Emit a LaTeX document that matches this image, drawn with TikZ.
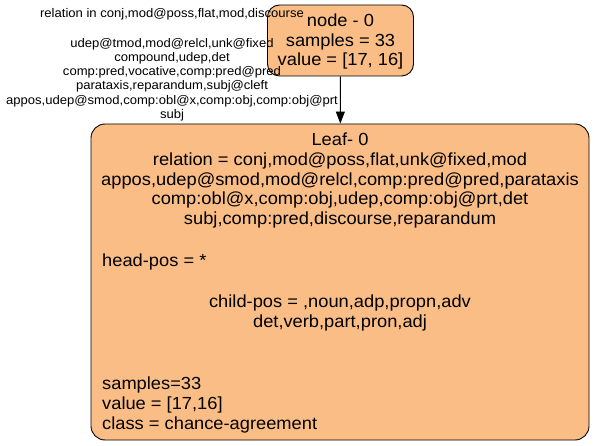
\documentclass[tikz,border=0pt]{standalone}
\usepackage{fontspec}
\setmainfont[FakeStretch=1.045]{Liberation Sans}
\usetikzlibrary{arrows.meta}
\definecolor{nodefill}{RGB}{251,189,134}
\tikzset{
  treebox/.style={draw=black, line width=0.9pt, fill=nodefill, rounded corners=12pt, inner sep=0pt},
  bigtext/.style={font=\fontsize{17.5}{19.7}\selectfont, inner sep=0pt},
  smalltext/.style={font=\fontsize{12.5}{14.3}\selectfont, inner sep=0pt, align=center},
  conn/.style={draw=black, line width=0.9pt, -{Triangle[length=12pt,width=9pt]}}
}
\begin{document}
\begin{tikzpicture}[x=1pt,y=-1pt]
\useasboundingbox (0,0) rectangle (594,446);
% root node
\node[treebox, minimum width=146pt, minimum height=71pt] (root) at (340.5,40.5) {};
\node[bigtext, align=center] (roottext) at (340.5,41.5)
  {node - 0\\samples = 33\\value = [17, 16]};
% leaf box
\node[treebox, rounded corners=14pt, minimum width=498pt, minimum height=316pt] (leaf) at (340,282) {};
\node[bigtext, align=center, anchor=north] (leafA) at (340,133)
  {Leaf- 0\\relation = conj,mod@poss,flat,unk@fixed,mod\\appos,udep@smod,mod@relcl,comp:pred@pred,parataxis\\comp:obl@x,comp:obj,udep,comp:obj@prt,det\\subj,comp:pred,discourse,reparandum};
\node[bigtext, anchor=base west] (leafB) at (102,266) {head-pos = *};
\node[bigtext, align=center, anchor=north] (leafC) at (340,294.5)
  {child-pos = ,noun,adp,propn,adv\\det,verb,part,pron,adj};
\node[bigtext, align=left, anchor=north west] (leafD) at (102,377)
  {samples=33\\value = [17,16]\\class = chance-agreement};
% connector
\draw[conn] (root) -- (leaf);
% edge label
\node[smalltext, anchor=north] (elabel) at (172,8.5)
  {relation in conj,mod@poss,flat,mod,discourse\\[15pt]udep@tmod,mod@relcl,unk@fixed\\compound,udep,det\\comp:pred,vocative,comp:pred@pred\\parataxis,reparandum,subj@cleft\\appos,udep@smod,comp:obl@x,comp:obj,comp:obj@prt\\subj};
\end{tikzpicture}
\end{document}
